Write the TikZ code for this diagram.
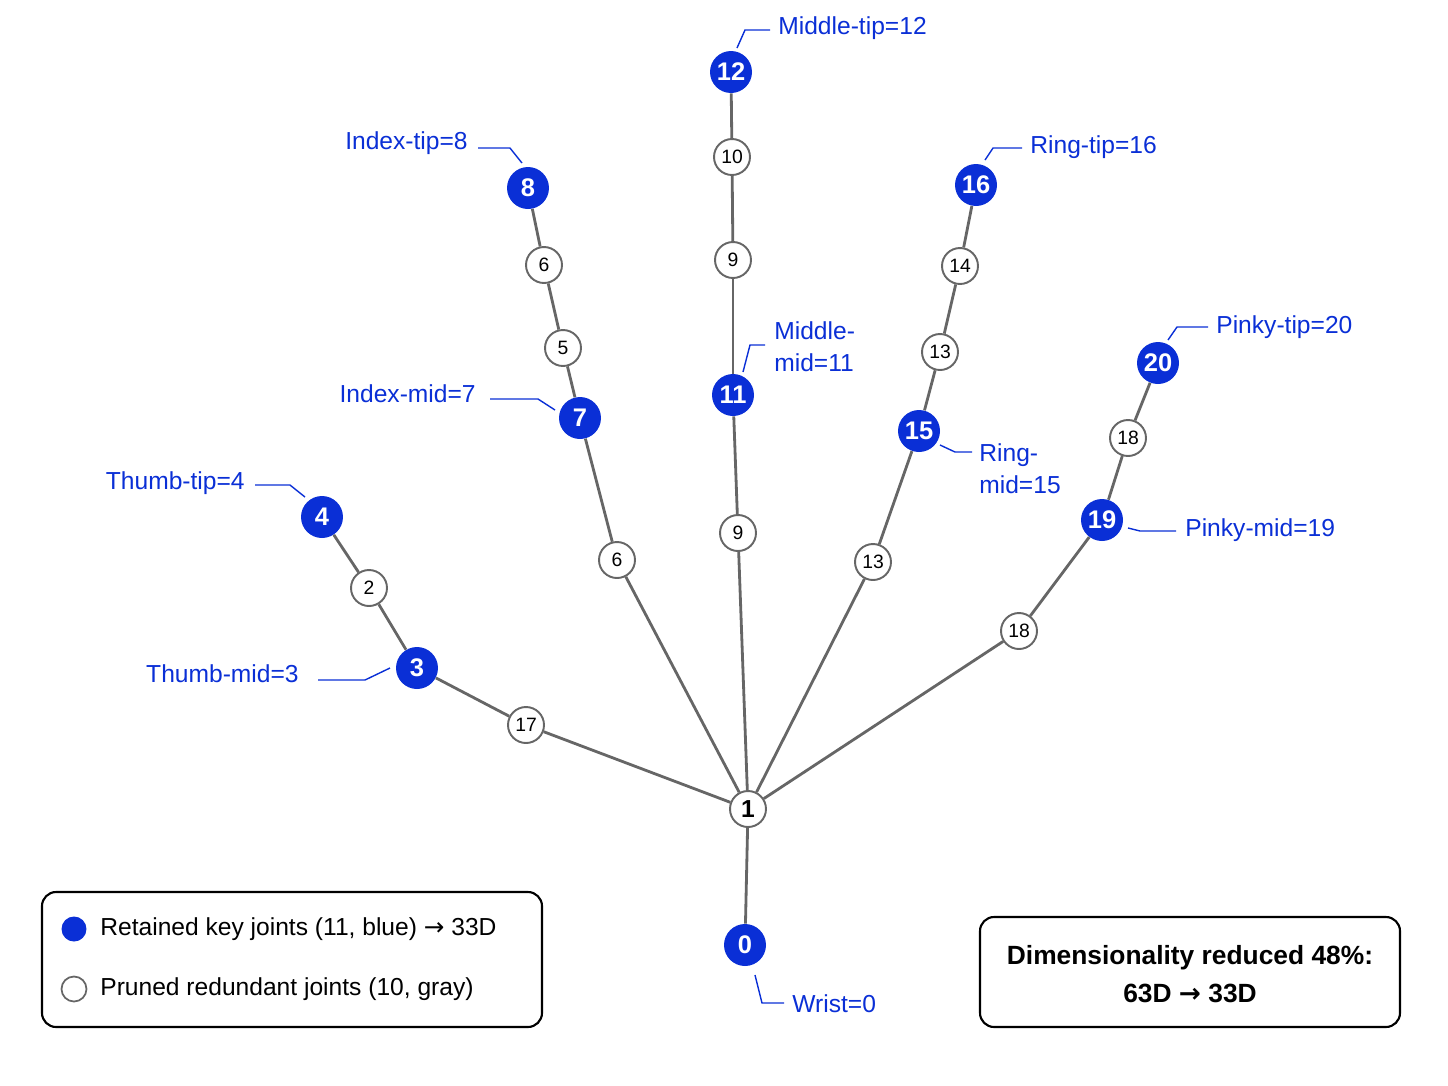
\documentclass[tikz,border=0pt]{standalone}
\usepackage{fontspec}
\setmainfont{Liberation Sans}
\newfontfamily\arr{DejaVu Sans}
\definecolor{kb}{HTML}{0A2FD6}
\definecolor{eg}{HTML}{666666}
\begin{document}
\begin{tikzpicture}[x=0.02cm,y=-0.02cm,
 key/.style={circle,fill=kb,text=white,inner sep=0pt,minimum size=0.84cm,font=\fontsize{14.5}{14}\selectfont\bfseries},
 pr/.style={circle,draw=eg,line width=1.1pt,fill=white,inner sep=0pt,minimum size=0.72cm,font=\fontsize{11}{11}\selectfont},
 ed/.style={eg,line width=1.6pt},
 ld/.style={kb,line width=0.8pt},
 lb/.style={text=kb,font=\fontsize{14}{18}\selectfont,inner sep=0pt,align=left}]
\useasboundingbox (0,0) rectangle (1448,1086);
% nodes
\node[key] (n0) at (745,945) {0};
\node[pr] (n1) at (748,809) {\fontsize{14}{14}\selectfont\bfseries 1};
\node[pr] (n17) at (526,725) {17};
\node[key] (n3) at (417,668) {3};
\node[pr] (n2) at (369,588) {2};
\node[key] (n4) at (322,517) {4};
\node[pr] (n6a) at (617,560) {6};
\node[key] (n7) at (580,418) {7};
\node[pr] (n5) at (563,348) {5};
\node[pr] (n6b) at (544,265) {6};
\node[key] (n8) at (528,188) {8};
\node[pr] (n9a) at (738,533) {9};
\node[key] (n11) at (733,395) {11};
\node[pr] (n9b) at (733,260) {9};
\node[pr] (n10) at (732,157) {10};
\node[key] (n12) at (731,72) {12};
\node[pr] (n13a) at (873,562) {13};
\node[key] (n15) at (919,431) {15};
\node[pr] (n13b) at (940,352) {13};
\node[pr] (n14) at (960,266) {14};
\node[key] (n16) at (976,185) {16};
\node[pr] (n18a) at (1019,631) {18};
\node[key] (n19) at (1102,520) {19};
\node[pr] (n18b) at (1128,438) {18};
\node[key] (n20) at (1158,363) {20};
% edges
\foreach \a/\b in {n0/n1,n1/n17,n17/n3,n3/n2,n2/n4,n1/n6a,n6a/n7,n7/n5,n5/n6b,n6b/n8,n1/n9a,n9a/n11,n11/n9b,n9b/n10,n10/n12,n1/n13a,n13a/n15,n15/n13b,n13b/n14,n14/n16,n1/n18a,n18a/n19,n19/n18b,n18b/n20}
 \draw[ed] (\a) -- (\b);
% labels
\node[lb,anchor=west] (l12) at (778,28) {Middle-tip=12};
\draw[ld] (737,48) -- (745,30) -- (770,30);
\node[lb,anchor=east] (l8) at (468,143) {Index-tip=8};
\draw[ld] (478,148) -- (510,148) -- (522,163);
\node[lb,anchor=west] (l16) at (1030,147) {Ring-tip=16};
\draw[ld] (985,160) -- (993,148) -- (1022,148);
\node[lb,anchor=west] (l20) at (1216,327) {Pinky-tip=20};
\draw[ld] (1168,340) -- (1177,327) -- (1208,327);
\node[lb,anchor=west] (l11) at (774,347) {Middle-\\mid=11};
\draw[ld] (743,372) -- (750,345) -- (765,345);
\node[lb,anchor=east] (l7) at (476,394) {Index-mid=7};
\draw[ld] (490,399) -- (538,399) -- (555,410);
\node[lb,anchor=west] (l15) at (979,469) {Ring-\\mid=15};
\draw[ld] (940,445) -- (955,452) -- (972,452);
\node[lb,anchor=east] (l4) at (245,483) {Thumb-tip=4};
\draw[ld] (255,485) -- (290,485) -- (305,497);
\node[lb,anchor=west] (l19) at (1185,530) {Pinky-mid=19};
\draw[ld] (1128,528) -- (1140,531) -- (1176,531);
\node[lb,anchor=east] (l3) at (299,674) {Thumb-mid=3};
\draw[ld] (318,680) -- (365,680) -- (390,668);
\node[lb,anchor=west] (l0) at (792,1004) {Wrist=0};
\draw[ld] (755,975) -- (762,1003) -- (784,1003);
% legend
\draw[rounded corners=8pt,line width=1.2pt] (42,892) rectangle (542,1027);
\node[circle,fill=kb,minimum size=0.5cm,inner sep=0pt] (lg1) at (74,929) {};
\node[circle,draw=eg,line width=1pt,fill=white,minimum size=0.5cm,inner sep=0pt] (lg2) at (74,989) {};
\node[anchor=west,inner sep=0pt,font=\fontsize{14}{16}\selectfont] (t1) at (100,929) {Retained key joints (11, blue) {\arr→} 33D};
\node[anchor=west,inner sep=0pt,font=\fontsize{14}{16}\selectfont] (t2) at (100,989) {Pruned redundant joints (10, gray)};
\draw[rounded corners=8pt,line width=1.2pt] (980,917) rectangle (1400,1027);
\node[align=center,font=\fontsize{15}{21.5}\selectfont\bfseries] (rb) at (1190,974) {Dimensionality reduced 48\%:\\63D {\arr\bfseries→} 33D};
\end{tikzpicture}
\end{document}
